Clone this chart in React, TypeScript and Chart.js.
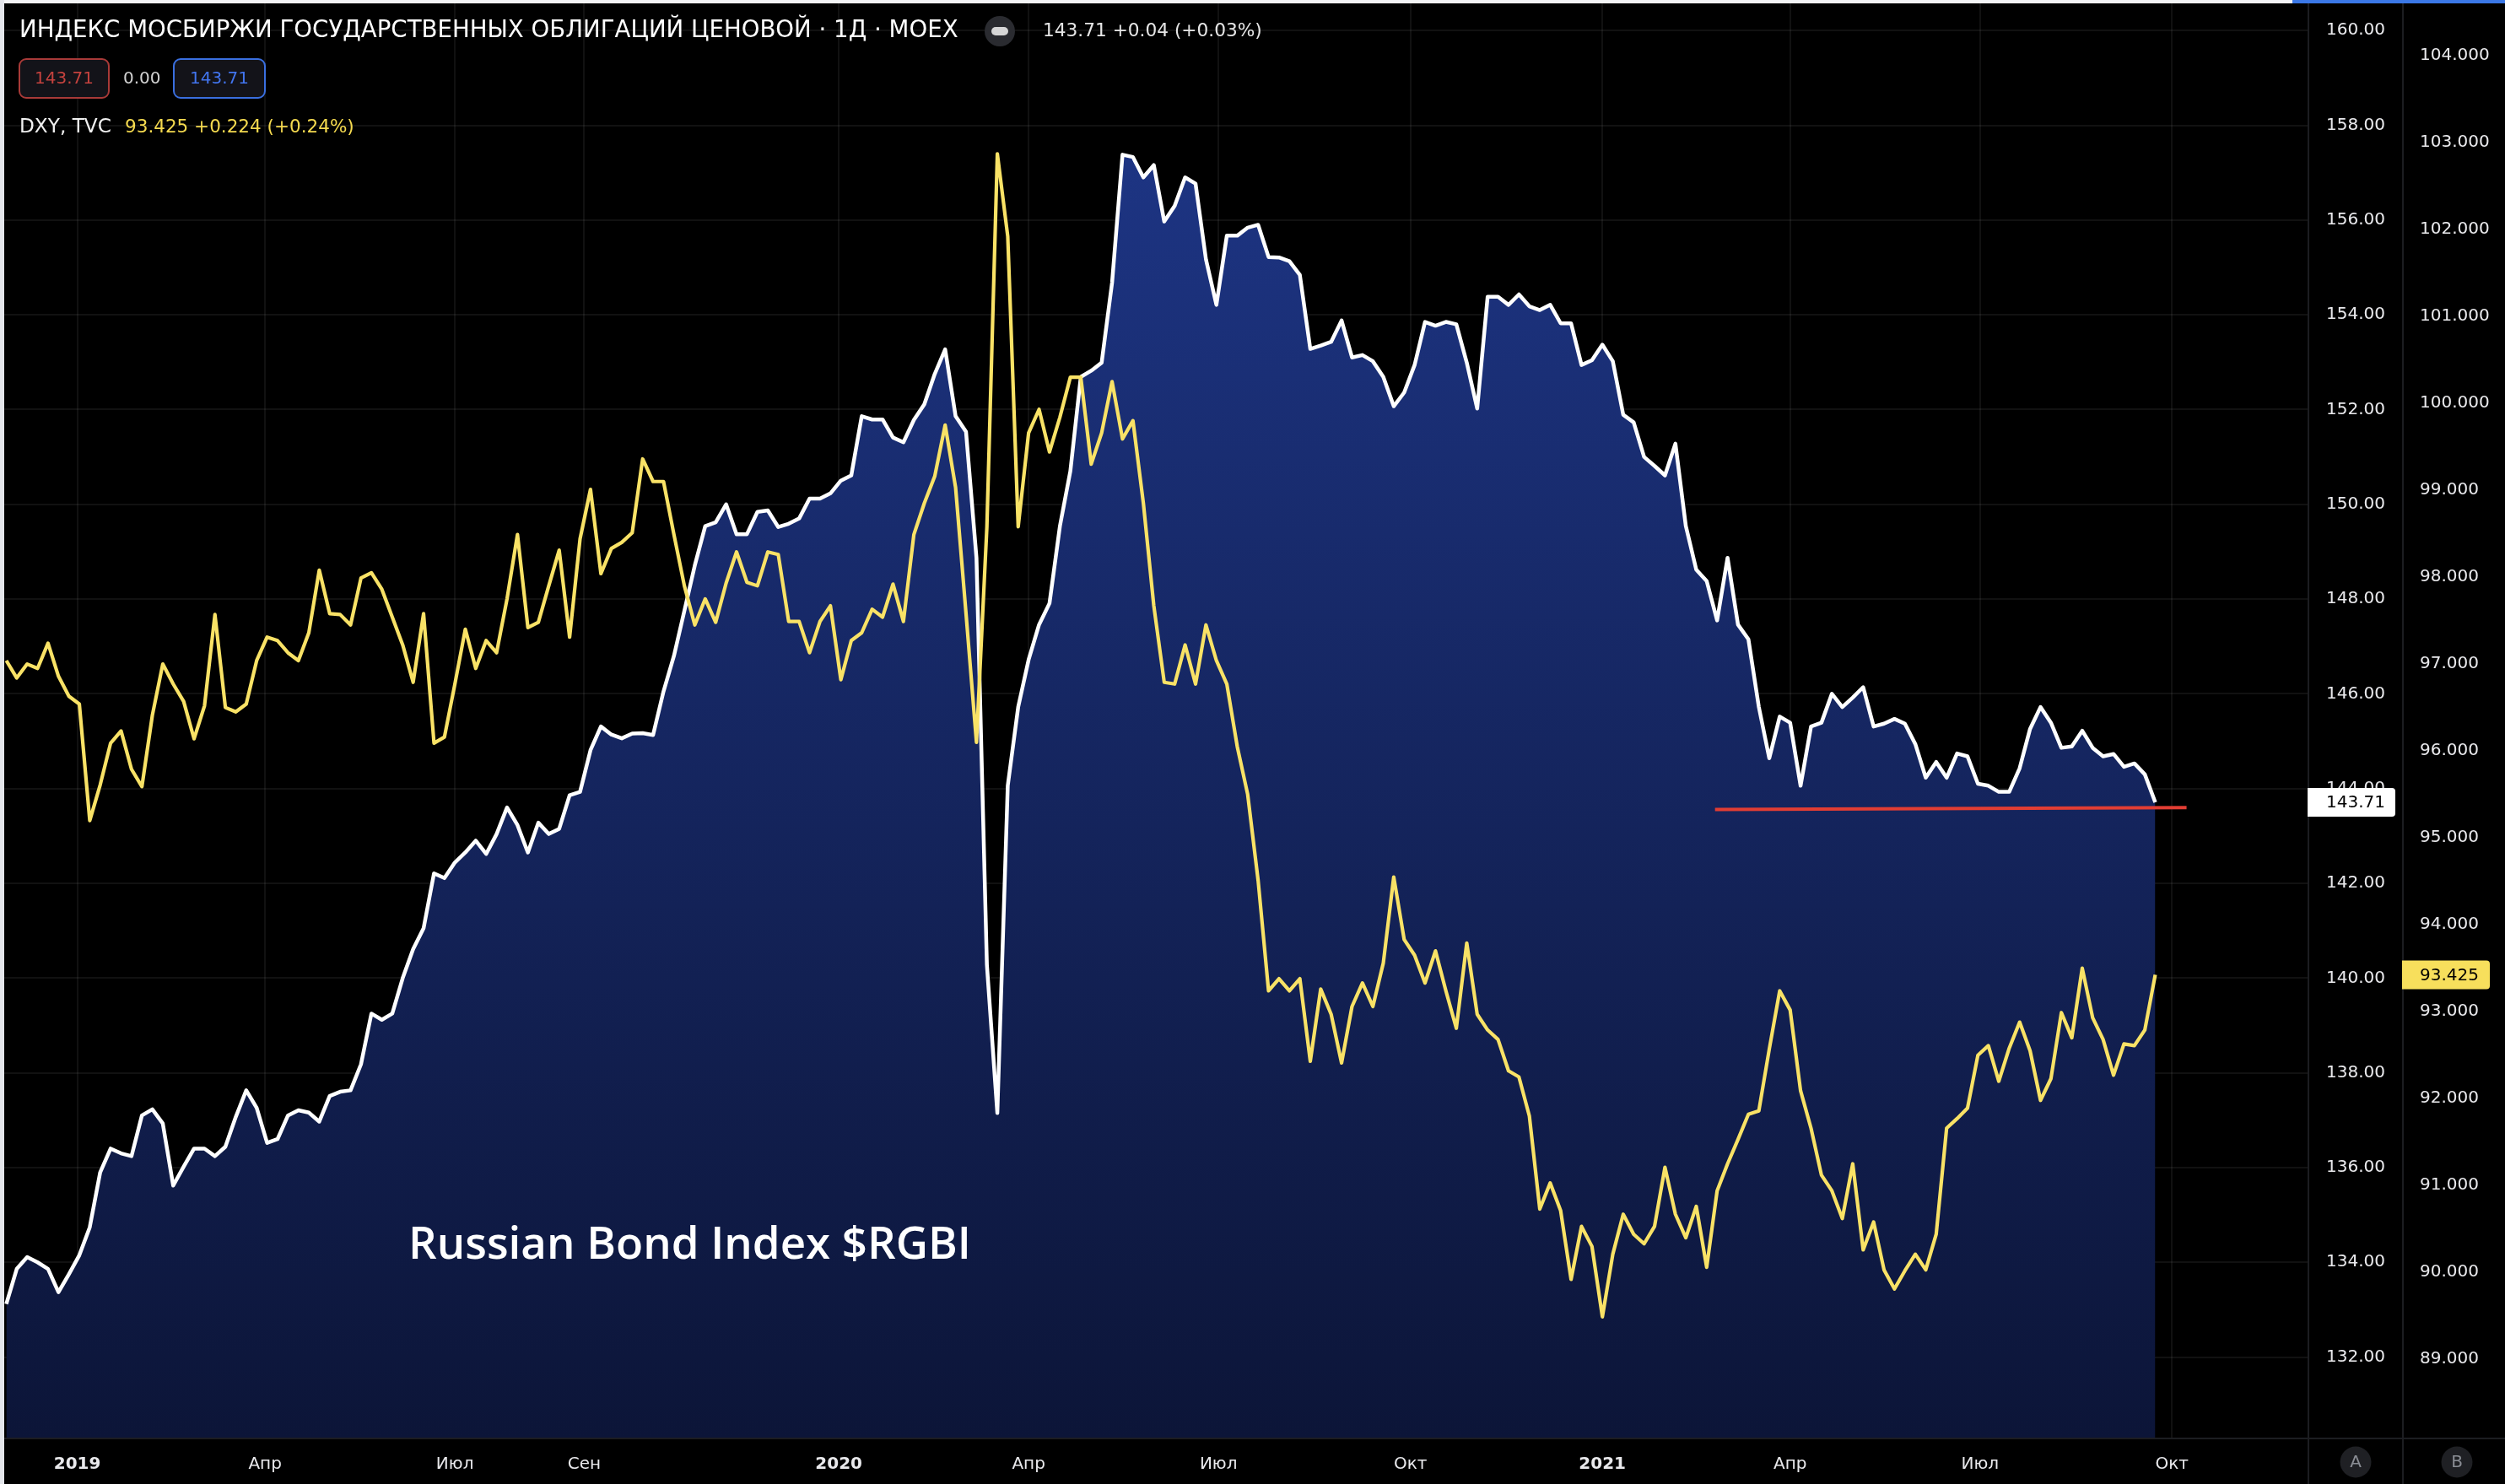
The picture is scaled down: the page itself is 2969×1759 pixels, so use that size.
import React, { useEffect, useRef } from 'react';
import { Chart, registerables } from 'chart.js';

Chart.register(...registerables);

const FONT = 'DejaVu Sans';

// Both series are sampled every five calendar days starting from SERIES_START.
const SERIES_START = '2018-11-28';
const SERIES_STEP_DAYS = 5;

// Индекс МосБиржи государственных облигаций (ценовой), close
const rgbiValues = [
  133.12, 133.86, 134.11, 134.0, 133.86, 133.37, 133.75, 134.15, 134.74, 135.9,
  136.4, 136.3, 136.24, 137.1, 137.23, 136.93, 135.62, 136.02, 136.4, 136.4,
  136.24, 136.44, 137.07, 137.63, 137.26, 136.52, 136.6, 137.1, 137.21, 137.16,
  136.97, 137.51, 137.6, 137.63, 138.18, 139.25, 139.12, 139.25, 140.0, 140.61,
  141.05, 142.21, 142.11, 142.44, 142.65, 142.9, 142.62, 143.04, 143.6, 143.23,
  142.65, 143.28, 143.04, 143.15, 143.86, 143.93, 144.81, 145.31, 145.14, 145.06,
  145.16, 145.17, 145.13, 146.05, 146.8, 147.75, 148.71, 149.54, 149.62, 150.0,
  149.37, 149.37, 149.84, 149.87, 149.52, 149.59, 149.7, 150.12, 150.12, 150.23,
  150.5, 150.61, 151.86, 151.79, 151.79, 151.41, 151.31, 151.78, 152.11, 152.75,
  153.27, 151.86, 151.53, 148.87, 140.28, 137.15, 144.06, 145.72, 146.72, 147.46,
  147.91, 149.54, 150.7, 152.69, 152.82, 152.99, 154.68, 157.38, 157.33, 156.9,
  157.16, 155.97, 156.3, 156.9, 156.77, 155.17, 154.21, 155.67, 155.67, 155.84,
  155.9, 155.22, 155.21, 155.13, 154.84, 153.28, 153.35, 153.43, 153.88, 153.1,
  153.15, 153.02, 152.69, 152.07, 152.36, 152.94, 153.85, 153.77, 153.85, 153.8,
  152.99, 152.02, 154.38, 154.38, 154.21, 154.43, 154.18, 154.1, 154.21, 153.82,
  153.82, 152.94, 153.04, 153.37, 153.02, 151.89, 151.73, 151.0, 150.81, 150.61,
  151.28, 149.54, 148.62, 148.38, 147.55, 148.87, 147.46, 147.15, 145.72, 144.64,
  145.52, 145.39, 144.06, 145.31, 145.39, 146.0, 145.72, 145.92, 146.14, 145.31,
  145.37, 145.47, 145.37, 144.94, 144.23, 144.56, 144.23, 144.74, 144.68, 144.1,
  144.06, 143.93, 143.93, 144.43, 145.26, 145.72, 145.39, 144.86, 144.89, 145.22,
  144.86, 144.68, 144.73, 144.46, 144.53, 144.3, 143.71,
];

// DXY, TVC close
const dxyValues = [
  97.04, 96.84, 97.0, 96.95, 97.24, 96.86, 96.63, 96.54, 95.2, 95.61,
  96.09, 96.23, 95.79, 95.59, 96.41, 97.0, 96.77, 96.57, 96.14, 96.52,
  97.57, 96.5, 96.45, 96.54, 97.04, 97.31, 97.27, 97.13, 97.04, 97.36,
  98.08, 97.58, 97.57, 97.45, 97.99, 98.05, 97.86, 97.54, 97.22, 96.79,
  97.58, 96.09, 96.16, 96.77, 97.4, 96.95, 97.27, 97.13, 97.75, 98.49,
  97.42, 97.48, 97.9, 98.31, 97.31, 98.44, 99.01, 98.04, 98.33, 98.4,
  98.51, 99.36, 99.1, 99.1, 98.49, 97.9, 97.45, 97.75, 97.48, 97.93,
  98.29, 97.94, 97.9, 98.29, 98.26, 97.49, 97.49, 97.13, 97.49, 97.67,
  96.82, 97.27, 97.36, 97.63, 97.54, 97.92, 97.49, 98.49, 98.85, 99.16,
  99.75, 99.03, 97.58, 96.1, 98.58, 102.87, 101.92, 98.58, 99.66, 99.93,
  99.44, 99.84, 100.3, 100.3, 99.3, 99.66, 100.25, 99.59, 99.8, 98.85,
  97.67, 96.79, 96.77, 97.22, 96.77, 97.45, 97.04, 96.77, 96.05, 95.5,
  94.51, 93.24, 93.38, 93.24, 93.38, 92.43, 93.26, 92.97, 92.41, 93.06,
  93.33, 93.06, 93.56, 94.55, 93.83, 93.65, 93.33, 93.7, 93.24, 92.81,
  93.79, 92.97, 92.79, 92.68, 92.32, 92.25, 91.8, 90.73, 91.03, 90.71,
  89.92, 90.53, 90.3, 89.49, 90.21, 90.67, 90.44, 90.33, 90.53, 91.21,
  90.67, 90.4, 90.76, 90.06, 90.94, 91.25, 91.53, 91.82, 91.86, 92.57,
  93.24, 93.02, 92.09, 91.66, 91.12, 90.94, 90.62, 91.25, 90.26, 90.58,
  90.03, 89.81, 90.02, 90.21, 90.03, 90.44, 91.66, 91.77, 91.89, 92.5,
  92.61, 92.2, 92.58, 92.88, 92.55, 91.98, 92.23, 92.99, 92.7, 93.5,
  92.93, 92.68, 92.27, 92.63, 92.61, 92.79, 93.425,
];

// Horizontal support drawn on the bond index
const supportDates = ['2021-02-24', '2021-10-08'];
const supportValues = [143.56, 143.6];

// Time axis
const tickDates = [
  '2019-01-01', '2019-04-01', '2019-07-01', '2019-09-01',
  '2020-01-01', '2020-04-01', '2020-07-01', '2020-10-01',
  '2021-01-01', '2021-04-01', '2021-07-01', '2021-10-01',
];
const tickLabels = ['2019', 'Апр', 'Июл', 'Сен', '2020', 'Апр', 'Июл', 'Окт', '2021', 'Апр', 'Июл', 'Окт'];
const yearLabels = ['2019', '2020', '2021'];

const viewStart = '2018-11-27';
const viewEnd = '2021-12-05';

const rgbiRange = [130.3, 160.645];
const dxyRange = [88.1, 104.64];

const RGBI_LAST = 143.71;
const RGBI_CHANGE = '+0.04 (+0.03%)';
const RGBI_SPREAD = '0.00';
const DXY_LAST = 93.425;
const DXY_CHANGE = '+0.224 (+0.24%)';

const TITLE = 'ИНДЕКС МОСБИРЖИ ГОСУДАРСТВЕННЫХ ОБЛИГАЦИЙ ЦЕНОВОЙ · 1Д · MOEX';
const COMPARE_LABEL = 'DXY, TVC';
const CAPTION = 'Russian Bond Index $RGBI';

const DAY_MS = 86400000;
const EPOCH = Date.UTC(2019, 0, 1);
function dayOf(iso: string): number {
  const [y, m, d] = iso.split('-').map(Number);
  return (Date.UTC(y, m - 1, d) - EPOCH) / DAY_MS;
}

const startDay = dayOf(SERIES_START);
const rgbiPoints = rgbiValues.map((v, i) => ({ x: startDay + i * SERIES_STEP_DAYS, y: v }));
const dxyPoints = dxyValues.map((v, i) => ({ x: startDay + i * SERIES_STEP_DAYS, y: v }));
const supportPoints = supportDates.map((d, i) => ({ x: dayOf(d), y: supportValues[i] }));

const GRID = 'rgba(255,255,255,0.065)';
const AXIS_TEXT = '#e9e9ec';

function fitText(
  c: CanvasRenderingContext2D,
  text: string,
  x: number,
  y: number,
  width: number,
  weight: string,
  family: string,
  color: string,
) {
  c.font = `${weight} 24px "${family}"`;
  const w = c.measureText(text).width;
  const size = (24 * width) / w;
  c.font = `${weight} ${size}px "${family}"`;
  c.fillStyle = color;
  c.fillText(text, x, y);
}

function tag(c: CanvasRenderingContext2D, x: number, y: number, w: number, h: number, fill: string) {
  c.beginPath();
  (c as any).roundRect(x, y, w, h, [0, 4, 4, 0]);
  c.fillStyle = fill;
  c.fill();
}

function chip(c: CanvasRenderingContext2D, x: number, y: number, w: number, h: number, stroke: string, text: string, color: string) {
  c.beginPath();
  (c as any).roundRect(x, y, w, h, 8);
  c.fillStyle = '#131319';
  c.fill();
  c.lineWidth = 2;
  c.strokeStyle = stroke;
  c.stroke();
  c.font = `20px "${FONT}"`;
  c.fillStyle = color;
  c.textAlign = 'center';
  c.fillText(text, x + w / 2, y + h / 2 + 1);
  c.textAlign = 'left';
}

// keeps the scales from reserving room for half-labels at their ends
const noEdgePadding = (scale: any) => {
  scale.paddingTop = 0;
  scale.paddingBottom = 0;
  scale.paddingLeft = 0;
  scale.paddingRight = 0;
};

const decorPlugin = {
  id: 'decor',
  beforeDraw(chart: any) {
    const c: CanvasRenderingContext2D = chart.ctx;
    c.save();
    c.fillStyle = '#000000';
    c.fillRect(0, 0, chart.width, chart.height);
    c.restore();
  },
  afterDraw(chart: any) {
    const c: CanvasRenderingContext2D = chart.ctx;
    const area = chart.chartArea;
    const yR = chart.scales.y;
    const yD = chart.scales.y1;
    c.save();

    // pane separators
    c.strokeStyle = '#1c1d21';
    c.lineWidth = 2;
    c.beginPath();
    c.moveTo(0, area.bottom + 1);
    c.lineTo(chart.width, area.bottom + 1);
    c.moveTo(yR.left + 1, 0);
    c.lineTo(yR.left + 1, chart.height);
    c.moveTo(yD.left + 1, 0);
    c.lineTo(yD.left + 1, chart.height);
    c.stroke();

    // caption inside the area
    c.textBaseline = 'alphabetic';
    c.textAlign = 'left';
    fitText(c, CAPTION, 484, 1492, 667, '600', 'Open Sans', '#ffffff');

    // last value tags on the price scales
    c.textBaseline = 'middle';
    const pr = yR.getPixelForValue(RGBI_LAST);
    tag(c, yR.left, pr - 17, 104, 34, '#ffffff');
    c.font = `20px "${FONT}"`;
    c.fillStyle = '#000000';
    c.fillText(RGBI_LAST.toFixed(2), yR.left + 22, pr + 1);

    const pd = yD.getPixelForValue(DXY_LAST);
    tag(c, yD.left, pd - 17, 104, 34, '#f7df5c');
    c.fillStyle = '#000000';
    c.fillText(DXY_LAST.toFixed(3), yD.left + 21, pd + 1);

    // scale mode buttons
    const btnY = area.bottom + 29;
    [
      ['A', yR.left + 57],
      ['B', yD.left + 65],
    ].forEach(([t, x]) => {
      c.beginPath();
      c.arc(x as number, btnY, 18.5, 0, Math.PI * 2);
      c.fillStyle = '#1f2024';
      c.fill();
      c.font = `20px "${FONT}"`;
      c.fillStyle = '#8a8d94';
      c.textAlign = 'center';
      c.fillText(t as string, x as number, btnY + 1);
      c.textAlign = 'left';
    });

    // legend: title row
    fitText(c, TITLE, 23, 37, 1113, 'normal', FONT, '#ffffff');
    c.beginPath();
    c.arc(1185, 37, 18, 0, Math.PI * 2);
    c.fillStyle = '#2a2b30';
    c.fill();
    c.beginPath();
    (c as any).roundRect(1175, 32, 20, 10, 5);
    c.fillStyle = '#d6d6d6';
    c.fill();
    fitText(c, `${RGBI_LAST.toFixed(2)} ${RGBI_CHANGE}`, 1236, 37, 260, 'normal', FONT, '#e6e6e6');

    // legend: bid / spread / ask
    chip(c, 23, 70, 106, 46, '#a83a38', RGBI_LAST.toFixed(2), '#c4423e');
    c.font = `20px "${FONT}"`;
    c.fillStyle = '#d0d0d0';
    c.fillText(RGBI_SPREAD, 146, 94);
    chip(c, 206, 70, 108, 46, '#3a6fe0', RGBI_LAST.toFixed(2), '#4275ef');

    // legend: compared symbol
    fitText(c, COMPARE_LABEL, 23, 151, 109, 'normal', FONT, '#f0f0f0');
    fitText(c, `${DXY_LAST.toFixed(3)} ${DXY_CHANGE}`, 148, 151, 272, 'normal', FONT, '#f5da4f');

    // window edges
    c.fillStyle = '#f3f4f6';
    c.fillRect(0, 0, 2717, 4);
    c.fillStyle = '#3b78e7';
    c.fillRect(2717, 0, chart.width - 2717, 4);
    c.fillStyle = '#e4e6eb';
    c.fillRect(0, 0, 5, chart.height);

    c.restore();
  },
};

export default function App() {
  const ref = useRef<HTMLCanvasElement>(null);

  useEffect(() => {
    document.body.style.margin = '0';
    document.body.style.background = '#000';
    const canvas = ref.current!;

    const areaFill = (ctx: any) => {
      const chart = ctx.chart;
      const a = chart.chartArea;
      if (!a) return 'rgb(20,36,92)';
      const g = chart.ctx.createLinearGradient(0, a.top, 0, a.bottom);
      g.addColorStop(0, 'rgb(31,56,140)');
      g.addColorStop(1, 'rgb(12,21,56)');
      return g;
    };

    const chart = new Chart(canvas, {
      type: 'line',
      data: {
        datasets: [
          {
            label: 'support',
            data: supportPoints,
            yAxisID: 'y',
            borderColor: '#e23d33',
            borderWidth: 4,
            pointRadius: 0,
            fill: false,
          },
          {
            label: COMPARE_LABEL,
            data: dxyPoints,
            yAxisID: 'y1',
            borderColor: '#f9e266',
            borderWidth: 4.2,
            borderJoinStyle: 'round',
            pointRadius: 0,
            fill: false,
          },
          {
            label: 'RGBI',
            data: rgbiPoints,
            yAxisID: 'y',
            borderColor: '#ffffff',
            borderWidth: 4.5,
            borderJoinStyle: 'round',
            pointRadius: 0,
            fill: 'start',
            backgroundColor: areaFill,
          },
        ],
      },
      options: {
        animation: false,
        responsive: false,
        devicePixelRatio: 1,
        events: [],
        layout: { padding: { left: 5, top: 0, right: 0, bottom: 0 }, autoPadding: false },
        plugins: {
          legend: { display: false },
          tooltip: { enabled: false },
        },
        scales: {
          x: {
            type: 'linear',
            min: dayOf(viewStart),
            max: dayOf(viewEnd),
            afterBuildTicks: (scale: any) => {
              scale.ticks = tickDates.map((d) => ({ value: dayOf(d) }));
            },
            afterFit: (scale: any) => {
              scale.height = 55;
              noEdgePadding(scale);
            },
            grid: { color: GRID, lineWidth: 2, drawTicks: false, tickLength: 0 },
            border: { display: false },
            ticks: {
              autoSkip: false,
              maxRotation: 0,
              padding: 20,
              color: AXIS_TEXT,
              font: (ctx: any) => ({
                family: FONT,
                size: 20,
                weight: yearLabels.includes(tickLabels[ctx.index]) ? 'bold' : 'normal',
              }),
              callback: (_v: any, i: number) => tickLabels[i] ?? '',
            },
          },
          y: {
            type: 'linear',
            position: 'right',
            weight: 0,
            min: rgbiRange[0],
            max: rgbiRange[1],
            afterFit: (scale: any) => {
              scale.width = 112;
              noEdgePadding(scale);
            },
            grid: { color: GRID, lineWidth: 2, drawTicks: false, tickLength: 0 },
            border: { display: false },
            ticks: {
              stepSize: 2,
              includeBounds: false,
              maxTicksLimit: 100,
              padding: 22,
              color: AXIS_TEXT,
              font: { family: FONT, size: 20 },
              callback: (v: any) => Number(v).toFixed(2),
            },
          },
          y1: {
            type: 'linear',
            position: 'right',
            weight: 1,
            min: dxyRange[0],
            max: dxyRange[1],
            afterFit: (scale: any) => {
              scale.width = 122;
              noEdgePadding(scale);
            },
            grid: { display: false, drawTicks: false, tickLength: 0 },
            border: { display: false },
            ticks: {
              stepSize: 1,
              includeBounds: false,
              maxTicksLimit: 100,
              padding: 21,
              color: AXIS_TEXT,
              font: { family: FONT, size: 20 },
              callback: (v: any) => Number(v).toFixed(3),
            },
          },
        },
      },
      plugins: [decorPlugin],
    } as any);

    return () => chart.destroy();
  }, []);

  return (
    <div style={{ width: 2969, height: 1759, background: '#000' }}>
      <canvas ref={ref} width={2969} height={1759} style={{ display: 'block', width: 2969, height: 1759 }} />
    </div>
  );
}
